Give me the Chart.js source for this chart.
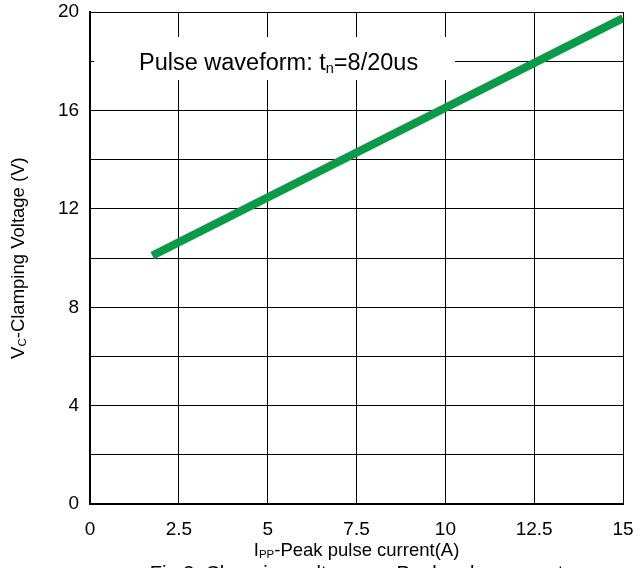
<!DOCTYPE html>
<html>
<head>
<meta charset="utf-8">
<script src="https://cdn.jsdelivr.net/npm/chart.js@4.4.1/dist/chart.umd.min.js"></script>
<style>
  html, body { margin: 0; padding: 0; background: #fff; }
  #wrap { width: 640px; height: 568px; position: relative; }
</style>
</head>
<body>
<div id="wrap"><canvas id="chart"></canvas></div>
<script>
/* ================= DATA ================= */
const peakCurrent = [1.75, 15];        // A
const clampVoltage = [10.1, 19.75];    // V
const xTicks = [0, 2.5, 5, 7.5, 10, 12.5, 15];
const yLabelTicks = [0, 4, 8, 12, 16, 20];

const FONT = "'Liberation Sans', Arial, sans-serif";

/* ================= TEXT PLUGIN ================= */
// draws the axis titles with subscripts, the waveform note and the caption
const textPlugin = {
  id: "texts",
  afterDraw(chart) {
    const { ctx, chartArea: a } = chart;
    ctx.save();
    ctx.fillStyle = "#000";
    ctx.textBaseline = "alphabetic";

    // draws text pieces, some as subscripts, starting at x
    function subText(parts, x, y, size) {
      let cx = x;
      parts.forEach(p => {
        ctx.font = (p.sub ? size * 0.62 : size) + "px " + FONT;
        ctx.fillText(p.t, cx, y + (p.sub ? size * 0.12 : 0));
        cx += ctx.measureText(p.t).width;
      });
    }
    function width(parts, size) {
      let w = 0;
      parts.forEach(p => {
        ctx.font = (p.sub ? size * 0.62 : size) + "px " + FONT;
        w += ctx.measureText(p.t).width;
      });
      return w;
    }

    // waveform note on a white box
    ctx.fillStyle = "#fff";
    ctx.fillRect(a.left + 4, 37, 455 - a.left - 4, 43);
    ctx.fillStyle = "#000";
    subText([{ t: "Pulse waveform: t" }, { t: "n", sub: true }, { t: "=8/20us" }], 139, 70, 23.5);

    // x axis title
    const xt = [{ t: "I" }, { t: "PP", sub: true }, { t: "-Peak pulse current(A)" }];
    const cx = (a.left + a.right) / 2;
    subText(xt, cx - width(xt, 18.5) / 2, 556, 18.5);

    // y axis title
    const yt = [{ t: "V" }, { t: "C", sub: true }, { t: "-Clamping Voltage (V)" }];
    ctx.translate(24, (a.top + a.bottom) / 2);
    ctx.rotate(-Math.PI / 2);
    subText(yt, -width(yt, 18.5) / 2, 0, 18.5);
    ctx.setTransform(1, 0, 0, 1, 0, 0);

    // caption (cut off by the bottom edge)
    ctx.font = "20px " + FONT;
    ctx.textAlign = "center";
    ctx.fillText("Fig.3  Clamping voltage vs. Peak pulse current", cx, 580);
    ctx.restore();
  }
};

// no extra room for overhanging end labels
const noOverhang = s => {
  s.paddingTop = 0; s.paddingBottom = 0;
  s.paddingLeft = 0; s.paddingRight = 0;
};

/* ================= CHART ================= */
new Chart(document.getElementById("chart"), {
  type: "line",
  data: {
    datasets: [{
      data: peakCurrent.map((x, i) => ({ x, y: clampVoltage[i] })),
      borderColor: "#0a9a48",
      borderWidth: 8,
      borderCapStyle: "butt",
      pointRadius: 0,
      fill: false
    }]
  },
  options: {
    responsive: true,
    maintainAspectRatio: false,
    animation: false,
    events: [],
    layout: { padding: { left: 47, right: 17, top: 12, bottom: 13 } },
    plugins: { legend: { display: false }, tooltip: { enabled: false } },
    scales: {
      x: {
        type: "linear",
        min: 0,
        max: 15,
        afterBuildTicks: s => { s.ticks = xTicks.map(v => ({ value: v })); },
        afterFit: noOverhang,
        grid: { color: "#000", lineWidth: 1, drawTicks: false },
        border: { color: "#000", width: 2 },
        ticks: {
          color: "#000",
          font: { family: FONT, size: 19 },
          padding: 14,
          maxRotation: 0,
          callback: v => String(v)
        }
      },
      y: {
        min: 0,
        max: 20,
        afterFit: noOverhang,
        ticks: {
          stepSize: 2,
          color: "#000",
          font: { family: FONT, size: 19 },
          padding: 11,
          callback: v => yLabelTicks.includes(v) ? String(v) : ""
        },
        grid: { color: "#000", lineWidth: 1, drawTicks: false },
        border: { color: "#000", width: 2 }
      }
    }
  },
  plugins: [textPlugin]
});
</script>
</body>
</html>
